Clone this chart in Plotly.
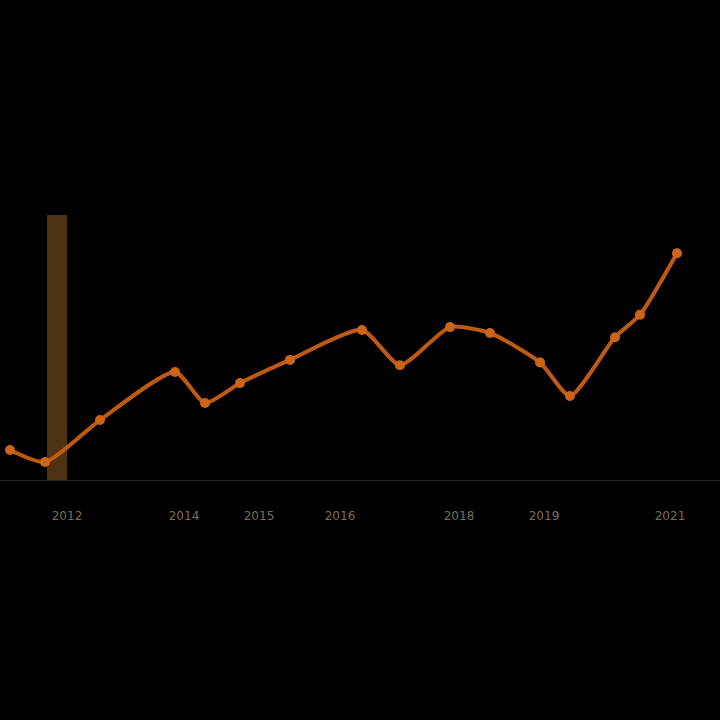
import plotly.graph_objects as go

# Series values (x in arbitrary time units)
line_x = [1, 4.5, 10, 17.5, 20.5, 24, 29, 36.2, 40, 45, 49, 54, 57, 61.5, 64, 67.7]
line_y = [10.7, 6.4, 21.4, 38.6, 27.5, 34.6, 42.9, 53.6, 41, 54.6, 52.5, 42, 30, 51, 59, 81]

bar_x = [5.7]
bar_y = [94.6]

tick_vals = [6.7, 18.4, 25.9, 34.0, 45.9, 54.4, 67.0]
tick_text = ["2012", "2014", "2015", "2016", "2018", "2019", "2021"]

fig = go.Figure()
fig.add_trace(go.Bar(
    x=bar_x, y=bar_y, width=2.0,
    marker=dict(color="rgb(78,50,20)", line=dict(width=0)),
    showlegend=False,
))
fig.add_trace(go.Scatter(
    x=line_x, y=line_y, mode="lines+markers",
    line=dict(color="rgb(190,90,20)", width=4, shape="spline", smoothing=0.6),
    marker=dict(color="rgb(205,100,25)", size=10),
    showlegend=False,
))

fig.update_layout(
    width=720, height=720,
    paper_bgcolor="black", plot_bgcolor="black",
    margin=dict(l=0, r=0, t=200, b=240),
    xaxis=dict(range=[0, 72], tickvals=tick_vals, ticktext=tick_text,
               showgrid=False, zeroline=False, showline=True,
               linecolor="rgb(40,35,28)", linewidth=1,
               tickfont=dict(color="rgb(120,110,90)", size=12, family="DejaVu Sans"),
               ticks="", ticklabelstandoff=25),
    yaxis=dict(range=[0, 100], showgrid=False, zeroline=False,
               showticklabels=False, visible=False),
    bargap=0,
)

fig.write_html(
    "out.html",
    config={"displayModeBar": False},
    post_script="document.body.style.margin='0';document.body.style.background='black';document.documentElement.style.background='black';",
)
